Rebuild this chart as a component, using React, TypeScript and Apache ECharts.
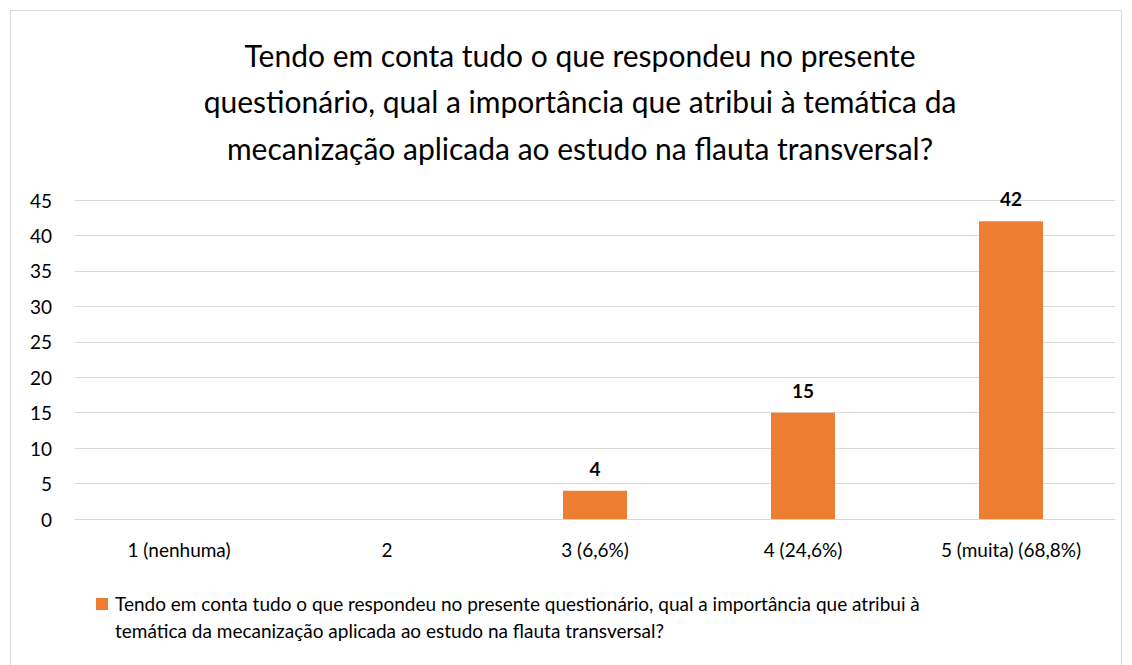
import React, { useEffect, useRef } from "react";
import * as echarts from "echarts";

const categories = ["1 (nenhuma)", "2", "3 (6,6%)", "4 (24,6%)", "5 (muita) (68,8%)"];
const values = [0, 0, 4, 15, 42];
const seriesName =
  "Tendo em conta tudo o que respondeu no presente questionário, qual a importância que atribui à temática da mecanização aplicada ao estudo na flauta transversal?";
const legendLines = [
  "Tendo em conta tudo o que respondeu no presente questionário, qual a importância que atribui à",
  "temática da mecanização aplicada ao estudo na flauta transversal?",
];
const titleLines = [
  "Tendo em conta tudo o que respondeu no presente",
  "questionário, qual a importância que atribui à temática da",
  "mecanização aplicada ao estudo na flauta transversal?",
];
const yTicks = { min: 0, max: 45, interval: 5 };
const barColor = "#ED7D31";

const FONT = "Lato, 'Noto Sans', sans-serif";

export default function App() {
  const ref = useRef<HTMLDivElement>(null);
  useEffect(() => {
    if (!ref.current) return;
    const chart = echarts.init(ref.current, undefined, { renderer: "svg" });
    chart.setOption({
      animation: false,
      backgroundColor: "#fff",
      textStyle: { fontFamily: FONT },
      graphic: [
        {
          type: "rect",
          shape: { x: 10.5, y: 10.5, width: 1111, height: 660 },
          style: { fill: "none", stroke: "#d9d9d9", lineWidth: 1 },
          silent: true,
          z: -1,
        },
        {
          type: "text",
          x: 580,
          y: 101,
          style: {
            text: titleLines.join("\n"),
            fontFamily: FONT,
            fontSize: 30,
            fill: "#000",
            lineHeight: 46.5,
            align: "center",
            verticalAlign: "middle",
          },
        },
        {
          type: "rect",
          shape: { x: 96, y: 598, width: 12, height: 12 },
          style: { fill: barColor },
        },
        {
          type: "text",
          x: 115,
          y: 617,
          style: {
            text: legendLines.join("\n"),
            fontFamily: FONT,
            fontSize: 19,
            fill: "#000",
            lineHeight: 27,
            align: "left",
            verticalAlign: "middle",
          },
        },
      ],
      grid: { left: 75, right: 17, top: 200, bottom: 146, containLabel: false },
      xAxis: {
        type: "category",
        data: categories,
        axisTick: { show: false },
        axisLine: { lineStyle: { color: "#d9d9d9" } },
        axisLabel: { color: "#000", fontSize: 19, margin: 21, fontFamily: FONT },
      },
      yAxis: {
        type: "value",
        min: yTicks.min,
        max: yTicks.max,
        interval: yTicks.interval,
        axisLine: { show: false },
        axisTick: { show: false },
        splitLine: { lineStyle: { color: "#d9d9d9", width: 1 } },
        axisLabel: { color: "#000", fontSize: 19, margin: 23, fontFamily: FONT },
      },
      series: [
        {
          name: seriesName,
          type: "bar",
          data: values,
          barWidth: 64,
          itemStyle: { color: barColor },
          label: {
            show: true,
            position: "top",
            distance: 13,
            fontSize: 19,
            fontWeight: "bold",
            color: "#000",
            fontFamily: FONT,
            formatter: (p: any) => (p.value > 0 ? String(p.value) : ""),
          },
        },
      ],
    });
    return () => chart.dispose();
  }, []);
  return (
    <div
      ref={ref}
      style={{ position: "fixed", left: 0, top: 0, width: 1132, height: 665 }}
    />
  );
}
